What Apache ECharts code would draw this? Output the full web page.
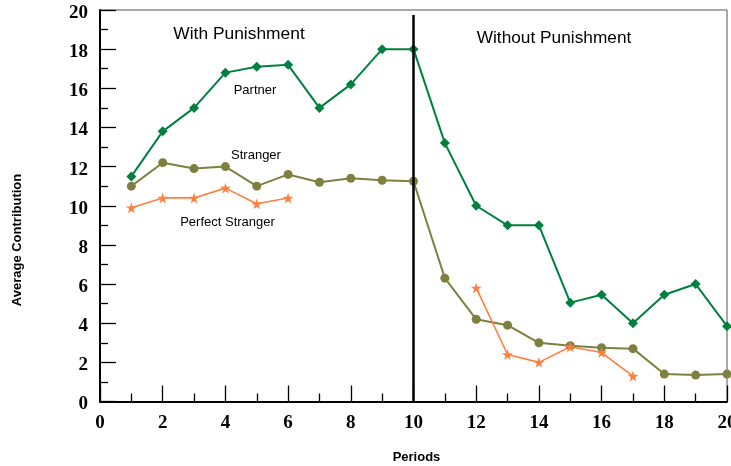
<!DOCTYPE html>
<html><head><meta charset="utf-8">
<script src="https://cdn.jsdelivr.net/npm/echarts@6/dist/echarts.min.js"></script>
<style>html,body{margin:0;padding:0;background:#fff}#c{width:731px;height:466px}</style>
</head><body><div id="c"></div>
<script>
const periods = [1,2,3,4,5,6,7,8,9,10,11,12,13,14,15,16,17,18,19,20];
const partner = [11.5,13.8,15.0,16.8,17.1,17.2,15.0,16.2,18.0,18.0,13.2,10.0,9.0,9.0,5.05,5.45,4.0,5.45,6.0,3.85];
const stranger = [11.0,12.2,11.9,12.0,11.0,11.6,11.2,11.4,11.3,11.25,6.3,4.2,3.9,3.0,2.85,2.75,2.7,1.4,1.35,1.4];
const perfectStranger = [9.9,10.4,10.4,10.9,10.1,10.4,null,null,null,null,null,5.8,2.4,2.0,2.8,2.5,1.3,null,null,null];
const xTicks = [0,2,4,6,8,10,12,14,16,18,20];
const yTicks = [0,2,4,6,8,10,12,14,16,18,20];

const pairs = arr => periods.map((p,i)=>[p,arr[i]]);
const chart = echarts.init(document.getElementById('c'));
const tickFont = {fontFamily:'Liberation Serif', fontWeight:'bold', fontSize:19, color:'#000'};
chart.setOption({
  animation:false,
  grid:{left:100,right:4,top:10,bottom:64.5,show:true,borderColor:'#555',borderWidth:1,outerBoundsMode:'none',containLabel:false},
  xAxis:{type:'value',min:0,max:20,interval:2,
    axisLine:{show:true,onZero:false,lineStyle:{color:'#000',width:2}},
    axisTick:{show:true,inside:true,length:16,lineStyle:{color:'#000',width:1.3}},
    minorTick:{show:true,splitNumber:2,length:8,lineStyle:{color:'#000',width:1.3}},
    splitLine:{show:false},
    axisLabel:Object.assign({margin:12,hideOverlap:false,showMaxLabel:true,showMinLabel:true,formatter:v=>xTicks.includes(v)?String(v):''},tickFont)},
  yAxis:{type:'value',min:0,max:20,interval:2,
    axisLine:{show:true,lineStyle:{color:'#000',width:2}},
    axisTick:{show:true,inside:true,length:16,lineStyle:{color:'#000',width:1.3}},
    minorTick:{show:true,splitNumber:2,length:8,lineStyle:{color:'#000',width:1.3}},
    splitLine:{show:false},
    axisLabel:Object.assign({margin:12,showMaxLabel:true,showMinLabel:true,
      formatter:v=>yTicks.includes(v)?'{t|'+v+'}':'',
      rich:{t:Object.assign({padding:[6,0,0,0]},tickFont)}},tickFont)},
  series:[
    {name:'Partner',type:'line',data:pairs(partner),symbol:'diamond',symbolSize:10,
     lineStyle:{color:'#00803F',width:2},itemStyle:{color:'#00803F'},
     markLine:{silent:true,symbol:'none',label:{show:false},lineStyle:{color:'#000',width:2.5,type:'solid'},
       data:[[{coord:[10,19.75]},{coord:[10,0]}]]}},
    {name:'Stranger',type:'line',data:pairs(stranger),symbol:'circle',symbolSize:9,
     lineStyle:{color:'#7F7F3F',width:2},itemStyle:{color:'#7F7F3F'}},
    {name:'Perfect Stranger',type:'line',data:pairs(perfectStranger),symbol:'path://M50,0 L61,35 L98,35 L68,57 L79,91 L50,70 L21,91 L32,57 L2,35 L39,35 Z',symbolSize:11,
     connectNulls:false,lineStyle:{color:'#FF7F40',width:1.6},itemStyle:{color:'#FF7F40'}}
  ],
  graphic:[
    {type:'text',x:239,y:34,style:{text:'With Punishment',font:'17.4px "Liberation Sans"',fill:'#000',align:'center',verticalAlign:'middle'}},
    {type:'text',x:554,y:38,style:{text:'Without Punishment',font:'17.3px "Liberation Sans"',fill:'#000',align:'center',verticalAlign:'middle'}},
    {type:'text',x:255,y:90,style:{text:'Partner',font:'13px "Liberation Sans"',fill:'#000',align:'center',verticalAlign:'middle'}},
    {type:'text',x:256,y:155,style:{text:'Stranger',font:'13px "Liberation Sans"',fill:'#000',align:'center',verticalAlign:'middle'}},
    {type:'text',x:227.5,y:222,style:{text:'Perfect Stranger',font:'13px "Liberation Sans"',fill:'#000',align:'center',verticalAlign:'middle'}},
    {type:'text',x:416.5,y:457,style:{text:'Periods',font:'bold 13px "Liberation Sans"',fill:'#000',align:'center',verticalAlign:'middle'}},
    {type:'text',x:17,y:240,rotation:Math.PI/2,style:{text:'Average Contribution',font:'bold 13px "Liberation Sans"',fill:'#000',align:'center',verticalAlign:'middle'}}
  ]
});
</script></body></html>
